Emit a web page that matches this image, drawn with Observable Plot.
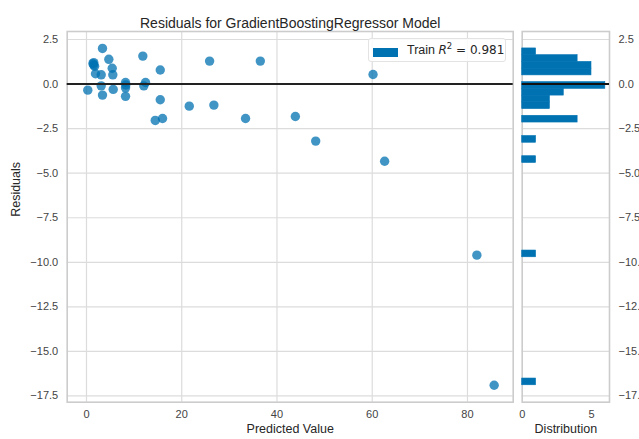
<!DOCTYPE html>
<html>
<head>
<meta charset="utf-8">
<script src="https://cdn.jsdelivr.net/npm/d3@7"></script>
<script src="https://cdn.jsdelivr.net/npm/@observablehq/plot@0.6"></script>
<style>
  html, body { margin: 0; padding: 0; background: #fff; overflow: hidden; }
  #fig { position: relative; width: 639px; height: 439px; font-family: "Liberation Sans", Arial, sans-serif; }
  #fig svg { position: absolute; top: 0; overflow: visible; }
  #legend {
    position: absolute; left: 368px; top: 38px; width: 138px; height: 24px;
    border: 1px solid #e3e3e3; border-radius: 3px; background: rgba(255,255,255,0.85);
    box-sizing: border-box; white-space: nowrap;
  }
  #legend .patch { position: absolute; left: 4px; top: 9px; width: 25px; height: 8.5px; background: #0072B2; }
  #legend .label { position: absolute; left: 38px; top: 3px; font-size: 12.5px; color: #262626; line-height: 16px; }
  #legend .math { font-family: "DejaVu Sans", sans-serif; font-size: 12px; }
  #legend sup { font-size: 8.5px; vertical-align: 5px; line-height: 0; }
</style>
</head>
<body>
<div id="fig"></div>
<script>
// Training set: model predictions and their residuals
const predicted = [
  3.36, 1.53, 1.53, 1.35, 1.70, 4.69, 5.40, 5.53, 1.89, 3.09,
  11.83, 15.49, 25.85, 36.5, 8.2, 8.2, 8.25, 12.4, 12.04, 3.09,
  0.27, 5.61, 3.36, 8.2, 15.49, 21.58, 26.75, 14.44, 15.97, 33.4,
  43.86, 48.13, 60.17, 62.6, 81.97, 85.6
];
const residuals = [
  2.00, 1.20, 1.07, 1.15, 1.00, 1.39, 0.89, 0.52, 0.58, 0.52,
  1.57, 0.79, 1.29, 1.29, 0.09, -0.21, -0.05, 0.09, -0.10, -0.10,
  -0.34, -0.30, -0.62, -0.69, -0.88, -1.24, -1.18, -2.04, -1.93, -1.93,
  -1.82, -3.20, 0.54, -4.33, -9.60, -16.90
];
const trainR2 = 0.981;

// Axis ticks
const xTicks = [0, 20, 40, 60, 80];
const yTicks = [2.5, 0, -2.5, -5, -7.5, -10, -12.5, -15, -17.5];
const distTicks = [0, 5];

const font = "'Liberation Sans', Arial, sans-serif";
const gridColor = "#dcdcdc";
const frameColor = "#cccccc";
const barColor = "#0072B2";
const yDomain = [-17.85, 2.95];
const fmt = d3.format(".1f");

const points = predicted.map((p, i) => ({predicted: p, residual: residuals[i]}));

// 50 equal-width bins spanning the residual range
const lo = d3.min(residuals), hi = d3.max(residuals), step = (hi - lo) / 50;
const bins = d3.bin()
  .domain([lo, hi])
  .thresholds(d3.range(1, 50).map(i => lo + i * step))(residuals)
  .filter(b => b.length > 0);

const common = {
  height: 439,
  marginTop: 31,
  marginBottom: 37.3,
  style: {fontFamily: font, fontSize: "11px", color: "#444", background: "transparent"}
};

const main = Plot.plot({
  ...common,
  width: 517,
  marginLeft: 66.7,
  marginRight: 4.3,
  x: {domain: [-4.05, 89.6]},
  y: {domain: yDomain},
  marks: [
    Plot.gridX({ticks: xTicks, stroke: gridColor, strokeOpacity: 1, strokeWidth: 1.2}),
    Plot.gridY({ticks: yTicks, stroke: gridColor, strokeOpacity: 1, strokeWidth: 1.2}),
    Plot.frame({stroke: frameColor, strokeWidth: 1.6}),
    Plot.dot(points, {x: "predicted", y: "residual", r: 4.7, fill: barColor, fillOpacity: 0.75, stroke: "none"}),
    Plot.ruleY([0], {stroke: "#222", strokeWidth: 2}),
    Plot.axisX({ticks: xTicks, tickSize: 0, tickPadding: 8, label: null}),
    Plot.axisY({ticks: yTicks, tickSize: 0, tickPadding: 9, tickFormat: fmt, label: null}),
    Plot.text(["Residuals for GradientBoostingRegressor Model"], {frameAnchor: "top", dy: -13, fontSize: 14, fill: "#262626"}),
    Plot.text(["Predicted Value"], {frameAnchor: "bottom", dy: 30.5, fontSize: 12.5, fill: "#262626"}),
    Plot.text(["Residuals"], {frameAnchor: "left", dx: -51.5, rotate: -90, fontSize: 12.5, fill: "#262626"})
  ]
});

const dist = Plot.plot({
  ...common,
  width: 122,
  marginLeft: 4.7,
  marginRight: 30,
  x: {domain: [0, 6.3]},
  y: {domain: yDomain},
  marks: [
    Plot.gridY({ticks: yTicks, stroke: gridColor, strokeOpacity: 1, strokeWidth: 1.2}),
    Plot.frame({stroke: frameColor, strokeWidth: 1.6}),
    Plot.rect(bins, {x1: 0, x2: d => d.length, y1: d => d.x0, y2: d => d.x1, fill: barColor, stroke: barColor, strokeWidth: 0.6}),
    Plot.ruleY([0], {stroke: "#111", strokeWidth: 2}),
    Plot.axisX({ticks: distTicks, tickSize: 0, tickPadding: 8, tickFormat: d3.format("d"), label: null}),
    Plot.axisY({ticks: yTicks, anchor: "right", tickSize: 0, tickPadding: 9, tickFormat: fmt, label: null}),
    Plot.text(["Distribution"], {frameAnchor: "bottom", dy: 30.5, fontSize: 12.5, fill: "#262626"})
  ]
});

const fig = document.getElementById("fig");
main.style.left = "0px";
dist.style.left = "517px";
fig.append(main, dist);

// Legend
const legend = document.createElement("div");
legend.id = "legend";
legend.innerHTML = `<div class="patch"></div><div class="label">Train <span class="math"><i>R</i><sup>2</sup> = ${trainR2}</span></div>`;
fig.append(legend);
</script>
</body>
</html>
